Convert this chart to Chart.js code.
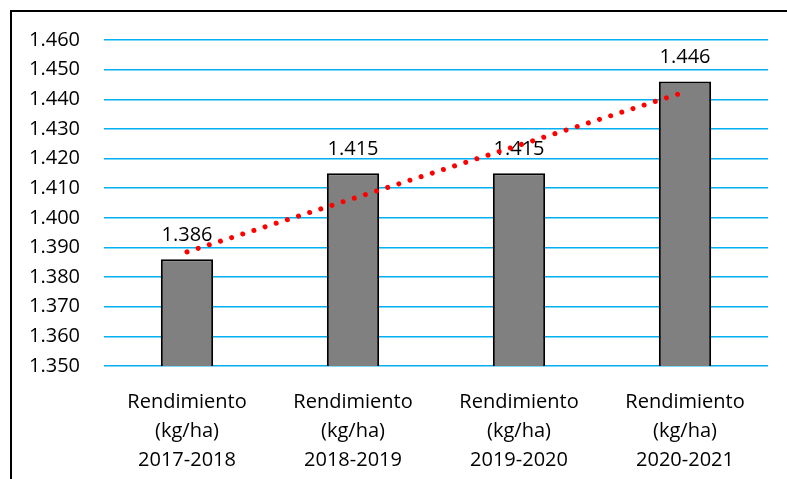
<!DOCTYPE html>
<html>
<head>
<meta charset="utf-8">
<script src="https://cdn.jsdelivr.net/npm/chart.js@4/dist/chart.umd.min.js"></script>
<style>
  html, body { margin: 0; padding: 0; background: #fff; }
  #wrap { position: relative; width: 787px; height: 479px; overflow: hidden; }
  #frame { position: absolute; left: 10px; top: 10px; width: 800px; height: 500px; border: 2px solid #000; }
  #chart { position: absolute; left: 0; top: 0; }
</style>
</head>
<body>
<div id="wrap">
  <div id="frame"></div>
  <canvas id="chart" width="787" height="479"></canvas>
</div>
<script>
// campañas
var labels = [
    ['Rendimiento', '(kg/ha)', '2017-2018'],
    ['Rendimiento', '(kg/ha)', '2018-2019'],
    ['Rendimiento', '(kg/ha)', '2019-2020'],
    ['Rendimiento', '(kg/ha)', '2020-2021']
];
var rendimiento = [1386, 1415, 1415, 1446];
// tendencia lineal
var tendencia = [1388.5, 1406.5, 1424.5, 1442.5];
var yMin = 1350, yMax = 1460, yStep = 10;

function fmt(v) {
    // separador de miles con punto
    var s = String(Math.round(v));
    return s.length > 3 ? s.slice(0, s.length - 3) + '.' + s.slice(-3) : s;
}

var FONT = "'Open Sans', 'Noto Sans', sans-serif";

var barLabels = {
    id: 'barLabels',
    afterDatasetDraw: function(chart, args) {
        if (args.index !== 0) return;
        var ctx = chart.ctx;
        ctx.save();
        ctx.font = '20px ' + FONT;
        ctx.fillStyle = '#000';
        ctx.textAlign = 'center';
        ctx.textBaseline = 'alphabetic';
        args.meta.data.forEach(function(bar, i) {
            ctx.fillText(fmt(rendimiento[i]), bar.x, bar.y - 18);
        });
        ctx.restore();
    }
};

var ctx = document.getElementById('chart').getContext('2d');
new Chart(ctx, {
    type: 'bar',
    data: {
        labels: labels,
        datasets: [{
            label: 'Rendimiento',
            data: rendimiento,
            backgroundColor: '#808080',
            borderColor: '#000',
            borderWidth: 2,
            borderSkipped: false,
            barPercentage: 0.315,
            categoryPercentage: 1,
            order: 1
        }, {
            type: 'line',
            label: 'Tendencia',
            data: tendencia,
            borderColor: '#ff0000',
            borderWidth: 5,
            borderDash: [0.01, 11.7],
            borderCapStyle: 'round',
            pointRadius: 0,
            tension: 0,
            fill: false,
            order: 0
        }]
    },
    options: {
        responsive: false,
        animation: false,
        layout: { padding: { left: 20, right: 19, top: 40, bottom: 13 } },
        plugins: { legend: { display: false }, tooltip: { enabled: false } },
        scales: {
            x: {
                grid: { display: false },
                border: { display: false },
                ticks: { color: '#000', font: { family: FONT, size: 20, lineHeight: 1.45 }, padding: 14, maxRotation: 0, autoSkip: false },
                afterFit: function(scale) { scale.height = 100; }
            },
            y: {
                min: yMin,
                max: yMax,
                grid: { color: '#00B0F0', lineWidth: 1.5, drawTicks: false },
                border: { display: false },
                ticks: {
                    stepSize: yStep,
                    color: '#000',
                    font: { family: FONT, size: 20 },
                    padding: 24,
                    callback: function(v) { return fmt(v); }
                },
                afterFit: function(scale) { scale.width = 84; }
            }
        }
    },
    plugins: [barLabels]
});
</script>
</body>
</html>
